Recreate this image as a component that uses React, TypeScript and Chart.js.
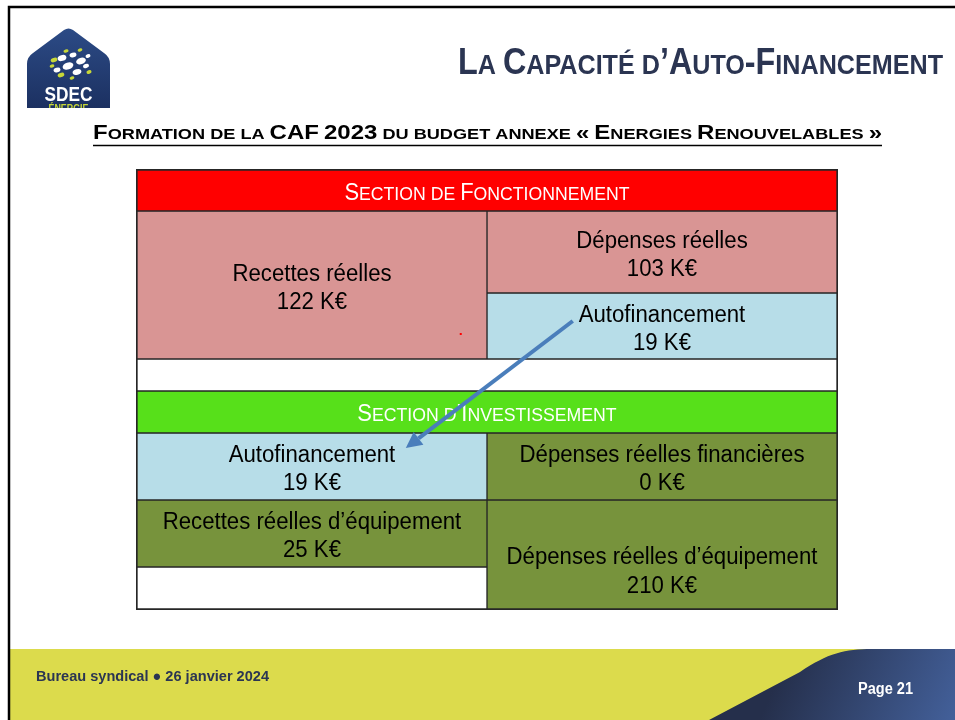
import React, { useEffect, useRef } from "react";
import { Chart, registerables } from "chart.js";

Chart.register(...registerables);

// ---------------- Data ----------------
const columnLabels = ["Colonne gauche", "Colonne droite"];
const cellLabels = [
  "Section de Fonctionnement",
  "Recettes réelles",
  "Dépenses réelles",
  "Autofinancement",
  "",
  "Section d’Investissement",
  "Autofinancement",
  "Dépenses réelles financières",
  "Recettes réelles d’équipement",
  "",
  "Dépenses réelles d’équipement",
];
const cellValuesKEUR: (number | null)[] = [null, 122, 103, 19, null, null, 19, 0, 25, null, 210];
const valueUnit = "K€";

const slideTitle = "La Capacité d’Auto-Financement";
const slideSubtitle = "Formation de la CAF 2023 du budget annexe « Energies Renouvelables »";
const footerText = "Bureau syndical ● 26 janvier 2024";
const pageText = "Page 21";

// ---------------- Layout of the table grid ----------------
const rowHeights = [41, 82, 66, 32, 42, 67, 67, 42];
const cellColumn: (number | "both")[] = ["both", 0, 1, 1, "both", "both", 0, 1, 0, 0, 1];
const cellRowStart = [0, 1, 1, 2, 3, 4, 5, 5, 6, 7, 6];
const cellRowSpan = [1, 2, 1, 1, 1, 1, 1, 1, 1, 1, 2];
const cellIsHeader = [true, false, false, false, false, true, false, false, false, false, false];
const cellLeadingBlank = [0, 0, 0, 0, 0, 0, 0, 0, 0, 0, 1];

// ---------------- Styles ----------------
const cellColors = [
  "#ff0000", "#d99594", "#d99594", "#b7dde8", "#ffffff",
  "#57e01a", "#b7dde8", "#77933c", "#77933c", "#ffffff", "#77933c",
];
const FAMILY = '"Liberation Sans", Arial, sans-serif';
const NAVY = "#2b3552";

const rowBounds: number[] = rowHeights.reduce((acc: number[], h) => {
  acc.push(acc[acc.length - 1] + h);
  return acc;
}, [0]);
const gridTotal = rowBounds[rowBounds.length - 1];

function drawCaps(
  ctx: CanvasRenderingContext2D,
  text: string,
  o: { x: number; y: number; big: number; small: number; weight: string; color: string; align: "left" | "right" | "center"; width?: number; sx?: number }
) {
  const segs: { t: string; s: number }[] = [];
  for (const ch of text) {
    const up = ch.toUpperCase();
    const isLower = (up !== ch && ch.toLowerCase() === ch) || ch === " ";
    const size = isLower ? o.small : o.big;
    const t = isLower ? up : ch;
    if (segs.length && segs[segs.length - 1].s === size) segs[segs.length - 1].t += t;
    else segs.push({ t, s: size });
  }
  ctx.save();
  let W = 0;
  const widths = segs.map((sg) => {
    ctx.font = `${o.weight} ${sg.s}px ${FAMILY}`;
    const w = ctx.measureText(sg.t).width;
    W += w;
    return w;
  });
  const sx = o.width ? o.width / W : o.sx ?? 1;
  const total = W * sx;
  const x0 = o.align === "left" ? o.x : o.align === "right" ? o.x - total : o.x - total / 2;
  ctx.translate(x0, o.y);
  ctx.scale(sx, 1);
  ctx.fillStyle = o.color;
  ctx.textAlign = "left";
  ctx.textBaseline = "alphabetic";
  let cx = 0;
  segs.forEach((sg, i) => {
    ctx.font = `${o.weight} ${sg.s}px ${FAMILY}`;
    ctx.fillText(sg.t, cx, 0);
    cx += widths[i];
  });
  ctx.restore();
}

function drawPlain(
  ctx: CanvasRenderingContext2D,
  text: string,
  x: number,
  y: number,
  font: string,
  color: string,
  align: "left" | "center",
  opt: { width?: number; sx?: number }
) {
  ctx.save();
  ctx.font = font;
  const W = ctx.measureText(text).width;
  const sx = opt.width ? opt.width / W : opt.sx ?? 1;
  const x0 = align === "left" ? x : x - (W * sx) / 2;
  ctx.translate(x0, y);
  ctx.scale(sx, 1);
  ctx.fillStyle = color;
  ctx.textAlign = "left";
  ctx.textBaseline = "alphabetic";
  ctx.fillText(text, 0, 0);
  ctx.restore();
}

const decorPlugin = {
  id: "decor",
  beforeDraw(chart: any) {
    const ctx: CanvasRenderingContext2D = chart.ctx;
    const W = chart.width;
    const H = chart.height;
    ctx.save();
    ctx.fillStyle = "#ffffff";
    ctx.fillRect(0, 0, W, H);

    // footer band
    ctx.fillStyle = "#dcdb4c";
    ctx.fillRect(9, 649, W - 9, H - 649);
    const g = ctx.createLinearGradient(790, 649, 955, 720);
    g.addColorStop(0, "#252f4b");
    g.addColorStop(1, "#43609a");
    ctx.fillStyle = g;
    ctx.beginPath();
    ctx.moveTo(709, 720);
    ctx.lineTo(800, 672);
    ctx.bezierCurveTo(828, 653, 845, 649, 872, 649);
    ctx.lineTo(W, 649);
    ctx.lineTo(W, H);
    ctx.closePath();
    ctx.fill();

    // slide frame
    ctx.strokeStyle = "#000000";
    ctx.lineWidth = 2.5;
    ctx.beginPath();
    ctx.moveTo(W, 7);
    ctx.lineTo(9, 7);
    ctx.lineTo(9, H);
    ctx.stroke();

    // logo
    ctx.save();
    ctx.beginPath();
    ctx.rect(20, 20, 100, 88);
    ctx.clip();
    const lg = ctx.createLinearGradient(0, 28, 0, 112);
    lg.addColorStop(0, "#2c4b86");
    lg.addColorStop(1, "#1b2f5f");
    ctx.fillStyle = lg;
    ctx.beginPath();
    ctx.moveTo(27, 64);
    ctx.quadraticCurveTo(27, 57, 33, 53);
    ctx.lineTo(64, 30);
    ctx.quadraticCurveTo(68.5, 27, 73, 30);
    ctx.lineTo(104, 53);
    ctx.quadraticCurveTo(110, 57, 110, 64);
    ctx.lineTo(110, 115);
    ctx.lineTo(27, 115);
    ctx.closePath();
    ctx.fill();
    const dotsW = [[62, 58, 4.5, 3], [73, 55, 3.5, 2.3], [81, 61, 5, 3.2], [68, 66, 5.5, 3.4], [57, 70, 3.5, 2.3], [77, 72, 4.5, 2.8], [88, 56, 2.5, 1.8], [86, 66, 3, 2]];
    const dotsY = [[54, 60, 3.4, 2.2], [66, 51, 2.6, 1.7], [80, 50, 2.4, 1.6], [52, 66, 2.4, 1.7], [61, 75, 3.4, 2.2], [89, 72, 2.6, 1.8], [72, 78, 2.4, 1.6]];
    ctx.fillStyle = "#ffffff";
    dotsW.forEach((d) => { ctx.beginPath(); ctx.ellipse(d[0], d[1], d[2], d[3], -0.3, 0, Math.PI * 2); ctx.fill(); });
    ctx.fillStyle = "#c8d838";
    dotsY.forEach((d) => { ctx.beginPath(); ctx.ellipse(d[0], d[1], d[2], d[3], -0.3, 0, Math.PI * 2); ctx.fill(); });
    drawPlain(ctx, "SDEC", 68.5, 101, `bold 21px ${FAMILY}`, "#ffffff", "center", { width: 48 });
    drawPlain(ctx, "ÉNERGIE", 68.5, 112, `bold 10px ${FAMILY}`, "#c8d838", "center", { width: 40 });
    ctx.restore();

    // title
    drawCaps(ctx, slideTitle, { x: 943, y: 74, big: 36, small: 28, weight: "bold", color: NAVY, align: "right", width: 485 });
    // subtitle
    drawCaps(ctx, slideSubtitle, { x: 93, y: 139, big: 20.5, small: 15.5, weight: "bold", color: "#000000", align: "left", width: 789 });
    ctx.strokeStyle = "#000000";
    ctx.lineWidth = 1.5;
    ctx.beginPath();
    ctx.moveTo(93, 145.5);
    ctx.lineTo(882, 145.5);
    ctx.stroke();

    // footer texts
    drawPlain(ctx, footerText, 36, 681, `bold 15px ${FAMILY}`, NAVY, "left", { width: 233 });
    drawPlain(ctx, pageText, 858, 694, `bold 16px ${FAMILY}`, "#ffffff", "left", { width: 55 });
    ctx.restore();
  },
  afterDatasetsDraw(chart: any) {
    const ctx: CanvasRenderingContext2D = chart.ctx;
    const area = chart.chartArea;
    ctx.save();
    // outer frame
    ctx.strokeStyle = "#262626";
    ctx.lineWidth = 1;
    ctx.strokeRect(area.left - 0.5, area.top - 0.5, area.right - area.left + 1, area.bottom - area.top + 1);

    chart.data.datasets.forEach((ds: any, i: number) => {
      const meta = chart.getDatasetMeta(i);
      const els = meta.data.filter((_: any, j: number) => ds.data[j] != null);
      if (!els.length) return;
      const cx = els.reduce((s: number, e: any) => s + e.x, 0) / els.length;
      const cy = (els[0].y + els[0].base) / 2;
      if (cellIsHeader[i]) {
        drawCaps(ctx, cellLabels[i], { x: cx, y: cy + 9.2, big: 23, small: 18.5, weight: "normal", color: "#ffffff", align: "center", sx: 0.955 });
        return;
      }
      if (!cellLabels[i]) return;
      const lines: string[] = [];
      for (let k = 0; k < cellLeadingBlank[i]; k++) lines.push("");
      lines.push(cellLabels[i]);
      if (cellValuesKEUR[i] != null) lines.push(`${cellValuesKEUR[i]} ${valueUnit}`);
      const lh = 28.3;
      const n = lines.length;
      lines.forEach((t, k) => {
        if (!t) return;
        const by = cy + (k - (n - 1) / 2) * lh + 9.7;
        drawPlain(ctx, t, cx, by, `normal 23px ${FAMILY}`, "#000000", "center", { sx: 0.965 });
      });
    });
    ctx.restore();
  },
  afterDraw(chart: any) {
    const ctx: CanvasRenderingContext2D = chart.ctx;
    const area = chart.chartArea;
    const y = chart.scales.y;
    const colW = (area.right - area.left) / columnLabels.length;
    const px = (u: number) => area.left + u * colW;
    // red speck
    ctx.save();
    ctx.fillStyle = "#ff0000";
    ctx.fillRect(px(0.925) - 1, y.getPixelForValue(164) - 1, 2, 2);
    // arrow between the two "Autofinancement" cells
    const x1 = px(1.245), y1 = y.getPixelForValue(151);
    const x2 = px(0.768), y2 = y.getPixelForValue(278);
    const ang = Math.atan2(y2 - y1, x2 - x1);
    const headL = 16, headW = 8;
    const bx = x2 - Math.cos(ang) * headL, by = y2 - Math.sin(ang) * headL;
    ctx.strokeStyle = "#4a7ebb";
    ctx.fillStyle = "#4a7ebb";
    ctx.lineWidth = 4;
    ctx.beginPath();
    ctx.moveTo(x1, y1);
    ctx.lineTo(bx, by);
    ctx.stroke();
    ctx.beginPath();
    ctx.moveTo(x2, y2);
    ctx.lineTo(bx + Math.sin(ang) * headW, by - Math.cos(ang) * headW);
    ctx.lineTo(bx - Math.sin(ang) * headW, by + Math.cos(ang) * headW);
    ctx.closePath();
    ctx.fill();
    ctx.restore();
  },
};

export default function App() {
  const ref = useRef<HTMLCanvasElement | null>(null);
  useEffect(() => {
    if (!ref.current) return;
    const datasets = cellLabels.map((label, i) => {
      const range = [rowBounds[cellRowStart[i]], rowBounds[cellRowStart[i] + cellRowSpan[i]]];
      const col = cellColumn[i];
      const data = col === "both" ? [range, range] : col === 0 ? [range, null] : [null, range];
      return {
        label: label || "vide",
        data,
        backgroundColor: cellColors[i],
        borderColor: "#262626",
        borderWidth: (c: any) =>
          col === "both"
            ? c.dataIndex === 0
              ? { top: 1, bottom: 1, left: 1, right: 0 }
              : { top: 1, bottom: 1, left: 0, right: 1 }
            : 1,
        borderSkipped: false,
        grouped: false,
        categoryPercentage: 1,
        barPercentage: 1,
      };
    });
    const chart = new Chart(ref.current, {
      type: "bar",
      data: { labels: columnLabels, datasets: datasets as any },
      options: {
        responsive: false,
        animation: false,
        events: [],
        layout: { padding: { left: 137, top: 170, right: 118, bottom: 111 } },
        plugins: { legend: { display: false }, tooltip: { enabled: false } },
        scales: {
          x: { type: "category", display: false, offset: true },
          y: { type: "linear", display: false, min: 0, max: gridTotal, reverse: true },
        },
      },
      plugins: [decorPlugin],
    });
    return () => chart.destroy();
  }, []);
  return (
    <div style={{ position: "fixed", left: 0, top: 0, width: 955, height: 720, background: "#fff" }}>
      <canvas ref={ref} width={955} height={720} style={{ display: "block" }} />
    </div>
  );
}
